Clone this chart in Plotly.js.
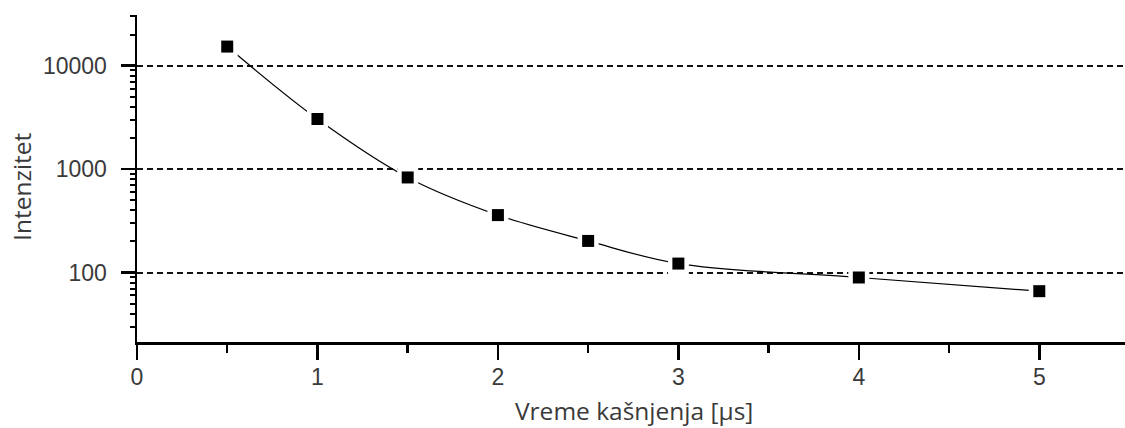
<!DOCTYPE html>
<html>
<head>
<meta charset="utf-8">
<script src="https://cdn.plot.ly/plotly-3.0.1.min.js"></script>
<style>
  html, body { margin: 0; padding: 0; background: #fff; }
  #chart { width: 1125px; height: 428px; }
</style>
</head>
<body>
<div id="chart"></div>
<script>
// Delay time (µs) and measured intensity
const delayUs = [0.5, 1, 1.5, 2, 2.5, 3, 4, 5];
const intensity = [15300, 3050, 830, 359, 202, 122, 89.5, 66];

const yTickVals = [100, 1000, 10000];
const yTickText = ['100', '1000', '10000'];
const xTickVals = [0, 1, 2, 3, 4, 5];
const xTickText = ['0', '1', '2', '3', '4', '5'];

const xTitle = 'Vreme kašnjenja [µs]';
const yTitle = 'Intenzitet';

const yRange = [1.328, 4.49];

// log minor ticks: 2..9 within each decade
const yMinorVals = [];
for (let dec = 10; dec <= 10000; dec *= 10) {
  for (let m = 2; m <= 9; m++) {
    const v = m * dec;
    const lv = Math.log10(v);
    if (lv >= yRange[0] && lv <= yRange[1]) yMinorVals.push(v);
  }
}

const labelFont = { family: 'Liberation Sans, Arial, sans-serif', size: 23, color: '#3a3a3a' };
const titleFont = { family: 'Open Sans, Segoe UI, sans-serif', size: 24.5, color: '#3a3a3a' };

const traces = [
  {
    // smooth connecting curve
    x: delayUs, y: intensity, type: 'scatter', mode: 'lines',
    line: { color: '#000', width: 1.2, shape: 'spline', smoothing: 1 },
    hoverinfo: 'skip', showlegend: false
  },
  {
    // white halo so the curve stops short of each marker
    x: delayUs, y: intensity, type: 'scatter', mode: 'markers',
    marker: { symbol: 'square', size: 21, color: '#fff' },
    hoverinfo: 'skip', showlegend: false
  },
  {
    x: delayUs, y: intensity, type: 'scatter', mode: 'markers',
    marker: { symbol: 'square', size: 12, color: '#000' },
    showlegend: false
  },
  {
    // carrier for the minor-tick axis
    x: delayUs, y: intensity, type: 'scatter', mode: 'markers', yaxis: 'y2',
    marker: { size: 1, opacity: 0 }, hoverinfo: 'skip', showlegend: false
  }
];

const layout = {
  width: 1125, height: 428,
  margin: { l: 137, r: 0, t: 15, b: 86 },
  paper_bgcolor: '#fff', plot_bgcolor: '#fff',
  showlegend: false,
  xaxis: {
    range: [0, 5.475],
    tickmode: 'array', tickvals: xTickVals, ticktext: xTickText,
    ticks: 'outside', ticklen: 15, tickwidth: 2.5, tickcolor: '#000',
    ticklabelstandoff: -2,
    showline: true, linecolor: '#000', linewidth: 2.5,
    showgrid: false, zeroline: false,
    tickfont: labelFont,
    minor: { dtick: 0.5, tick0: 0, ticks: 'outside', ticklen: 8, tickwidth: 2.5, tickcolor: '#000', showgrid: false }
  },
  yaxis: {
    type: 'log',
    range: yRange,
    tickmode: 'array', tickvals: yTickVals, ticktext: yTickText,
    ticks: 'outside', ticklen: 14, tickwidth: 2.5, tickcolor: '#000',
    ticklabelstandoff: 9,
    showline: true, linecolor: '#000', linewidth: 2.5,
    showgrid: true, gridcolor: '#111', gridwidth: 2, griddash: '6px,4px',
    zeroline: false,
    tickfont: labelFont
  },
  yaxis2: {
    type: 'log',
    range: yRange,
    overlaying: 'y', side: 'left', anchor: 'x',
    tickmode: 'array', tickvals: yMinorVals,
    showticklabels: false,
    ticks: 'outside', ticklen: 6, tickwidth: 2, tickcolor: '#000',
    showline: false, showgrid: false, zeroline: false
  },
  annotations: [
    { text: xTitle, xref: 'paper', yref: 'paper', x: 0.503, y: -0.21, xanchor: 'center', yanchor: 'middle',
      showarrow: false, font: titleFont },
    { text: yTitle, xref: 'paper', yref: 'paper', x: -0.1175, y: 0.477, xanchor: 'center', yanchor: 'middle',
      textangle: -90, showarrow: false, font: titleFont }
  ]
};

Plotly.newPlot('chart', traces, layout, { displayModeBar: false, staticPlot: true });
</script>
</body>
</html>
